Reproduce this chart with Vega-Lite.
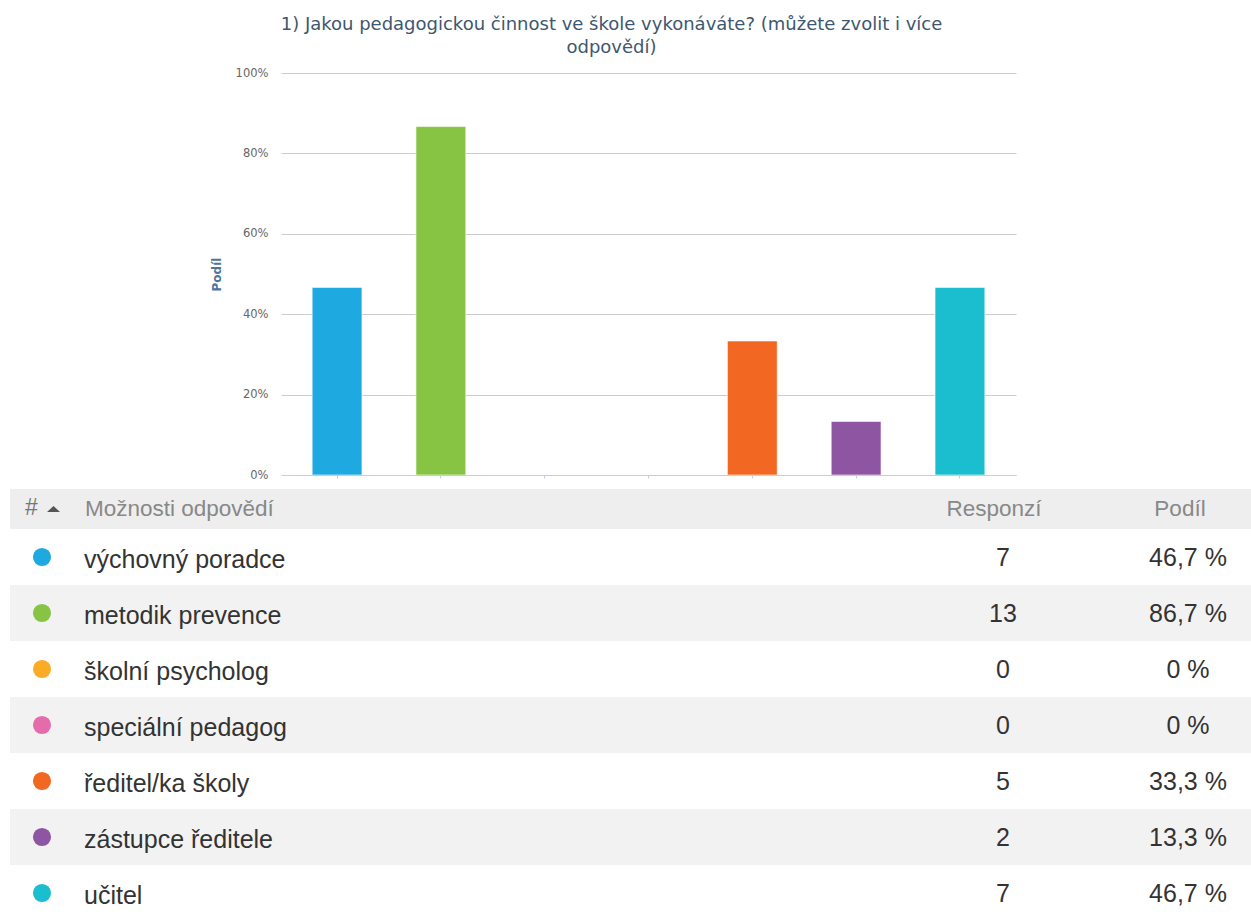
{
  "$schema": "https://vega.github.io/schema/vega-lite/v6.json",
  "padding": {"left": 10, "top": 16, "right": 0, "bottom": 0},
  "background": "#ffffff",
  "config": {
    "view": {"stroke": null},
    "font": "DejaVu Sans"
  },
  "datasets": {
    "answers": [
      {"option": "výchovný poradce", "count": 7, "share": 0.4667, "label": "46,7 %"},
      {"option": "metodik prevence", "count": 13, "share": 0.8667, "label": "86,7 %"},
      {"option": "školní psycholog", "count": 0, "share": 0, "label": "0 %"},
      {"option": "speciální pedagog", "count": 0, "share": 0, "label": "0 %"},
      {"option": "ředitel/ka školy", "count": 5, "share": 0.3333, "label": "33,3 %"},
      {"option": "zástupce ředitele", "count": 2, "share": 0.1333, "label": "13,3 %"},
      {"option": "učitel", "count": 7, "share": 0.4667, "label": "46,7 %"}
    ],
    "header": [{"row": "header"}]
  },
  "vconcat": [
    {
      "title": {
        "text": ["1) Jakou pedagogickou činnost ve škole vykonáváte? (můžete zvolit i více", "odpovědí)"],
        "font": "DejaVu Sans",
        "fontSize": 18,
        "fontWeight": "normal",
        "color": "#3e576f",
        "anchor": "middle",
        "lineHeight": 23,
        "dx": -19,
        "offset": 10
      },
      "width": 1241,
      "height": 402,
      "data": {"name": "answers"},
      "mark": {"type": "bar", "stroke": "#ffffff", "strokeOpacity": 0.6, "strokeWidth": 1},
      "encoding": {
        "x": {
          "field": "option",
          "type": "nominal",
          "sort": null,
          "scale": {"range": [271, 1006], "paddingInner": 0.52, "paddingOuter": 0.3},
          "axis": {
            "title": null,
            "labels": false,
            "ticks": true,
            "tickSize": 3,
            "tickColor": "#c0d0e0",
            "domainColor": "#c0d0e0",
            "grid": false,
            "zindex": 1
          }
        },
        "y": {
          "field": "share",
          "type": "quantitative",
          "scale": {"domain": [0, 1], "nice": false},
          "axis": {
            "offset": -271,
            "values": [0, 0.2, 0.4, 0.6, 0.8, 1],
            "format": ".0%",
            "domain": false,
            "ticks": false,
            "labelPadding": 13,
            "labelFont": "DejaVu Sans",
            "labelFontSize": 11.5,
            "labelColor": "#666666",
            "gridColor": "#cccccc",
            "title": "Podíl",
            "titleFont": "DejaVu Sans",
            "titleFontSize": 12,
            "titleFontWeight": "bold",
            "titleColor": "#4d759e",
            "titlePadding": 12
          }
        },
        "color": {
          "field": "option",
          "type": "nominal",
          "sort": null,
          "scale": {
            "domain": ["výchovný poradce", "metodik prevence", "školní psycholog", "speciální pedagog", "ředitel/ka školy", "zástupce ředitele", "učitel"],
            "range": ["#1fa9e1", "#88c443", "#fbab26", "#e56caa", "#f26722", "#8e55a2", "#1bbecf"]
          },
          "legend": null
        }
      }
    },
    {
      "spacing": 0,
      "vconcat": [
        {
          "width": 1241,
          "height": 40,
          "data": {"name": "header"},
          "layer": [
            {
              "mark": {"type": "rect", "fill": "#eeeeee"},
              "encoding": {
                "x": {"datum": 0, "type": "quantitative", "scale": {"domain": [0, 1241], "nice": false}, "axis": null},
                "x2": {"datum": 1241}
              }
            },
            {
              "mark": {"type": "text", "align": "left", "baseline": "middle", "font": "Liberation Sans", "fontSize": 23, "color": "#777777", "text": "#", "dy": -1},
              "encoding": {
                "x": {"datum": 15, "type": "quantitative", "scale": {"domain": [0, 1241], "nice": false}, "axis": null}
              }
            },
            {
              "mark": {"type": "point", "shape": "M-1,0.46L1,0.46L0,-0.46Z", "size": 169, "filled": true, "color": "#555555", "opacity": 1},
              "encoding": {
                "x": {"datum": 43.5, "type": "quantitative", "scale": {"domain": [0, 1241], "nice": false}, "axis": null}
              }
            },
            {
              "mark": {"type": "text", "align": "left", "baseline": "middle", "font": "Liberation Sans", "fontSize": 22.5, "color": "#888888", "text": "Možnosti odpovědí"},
              "encoding": {
                "x": {"datum": 75, "type": "quantitative", "scale": {"domain": [0, 1241], "nice": false}, "axis": null}
              }
            },
            {
              "mark": {"type": "text", "align": "center", "baseline": "middle", "font": "Liberation Sans", "fontSize": 22.5, "color": "#888888", "text": "Responzí"},
              "encoding": {
                "x": {"datum": 984, "type": "quantitative", "scale": {"domain": [0, 1241], "nice": false}, "axis": null}
              }
            },
            {
              "mark": {"type": "text", "align": "center", "baseline": "middle", "font": "Liberation Sans", "fontSize": 22.5, "color": "#888888", "text": "Podíl"},
              "encoding": {
                "x": {"datum": 1170, "type": "quantitative", "scale": {"domain": [0, 1241], "nice": false}, "axis": null}
              }
            }
          ]
        },
        {
          "width": 1241,
          "height": 392,
          "data": {"name": "answers"},
          "transform": [
            {"window": [{"op": "row_number", "as": "rn"}]}
          ],
          "encoding": {
            "y": {
              "field": "option",
              "type": "nominal",
              "sort": null,
              "scale": {"paddingInner": 0, "paddingOuter": 0},
              "axis": null
            }
          },
          "layer": [
            {
              "mark": {"type": "rect"},
              "encoding": {
                "x": {"datum": 0, "type": "quantitative", "scale": {"domain": [0, 1241], "nice": false}, "axis": null},
                "x2": {"datum": 1241},
                "fill": {
                  "condition": {"test": "datum.rn % 2 === 0", "value": "#f2f2f2"},
                  "value": "#ffffff"
                }
              }
            },
            {
              "mark": {"type": "circle", "size": 330, "opacity": 1, "dy": 3},
              "encoding": {
                "x": {"datum": 32, "type": "quantitative", "scale": {"domain": [0, 1241], "nice": false}, "axis": null},
                "color": {
                  "field": "option",
                  "type": "nominal",
                  "sort": null,
                  "scale": {
                    "domain": ["výchovný poradce", "metodik prevence", "školní psycholog", "speciální pedagog", "ředitel/ka školy", "zástupce ředitele", "učitel"],
                    "range": ["#1fa9e1", "#88c443", "#fbab26", "#e56caa", "#f26722", "#8e55a2", "#1bbecf"]
                  },
                  "legend": null
                }
              }
            },
            {
              "mark": {"type": "text", "align": "left", "baseline": "middle", "font": "Liberation Sans", "fontSize": 25, "color": "#333333", "dy": 3},
              "encoding": {
                "x": {"datum": 74, "type": "quantitative", "scale": {"domain": [0, 1241], "nice": false}, "axis": null},
                "text": {"field": "option"}
              }
            },
            {
              "mark": {"type": "text", "align": "center", "baseline": "middle", "font": "Liberation Sans", "fontSize": 25, "color": "#333333", "dy": 1},
              "encoding": {
                "x": {"datum": 993, "type": "quantitative", "scale": {"domain": [0, 1241], "nice": false}, "axis": null},
                "text": {"field": "count"}
              }
            },
            {
              "mark": {"type": "text", "align": "center", "baseline": "middle", "font": "Liberation Sans", "fontSize": 25, "color": "#333333", "dy": 1},
              "encoding": {
                "x": {"datum": 1178, "type": "quantitative", "scale": {"domain": [0, 1241], "nice": false}, "axis": null},
                "text": {"field": "label"}
              }
            }
          ]
        }
      ]
    }
  ],
  "spacing": 8
}
